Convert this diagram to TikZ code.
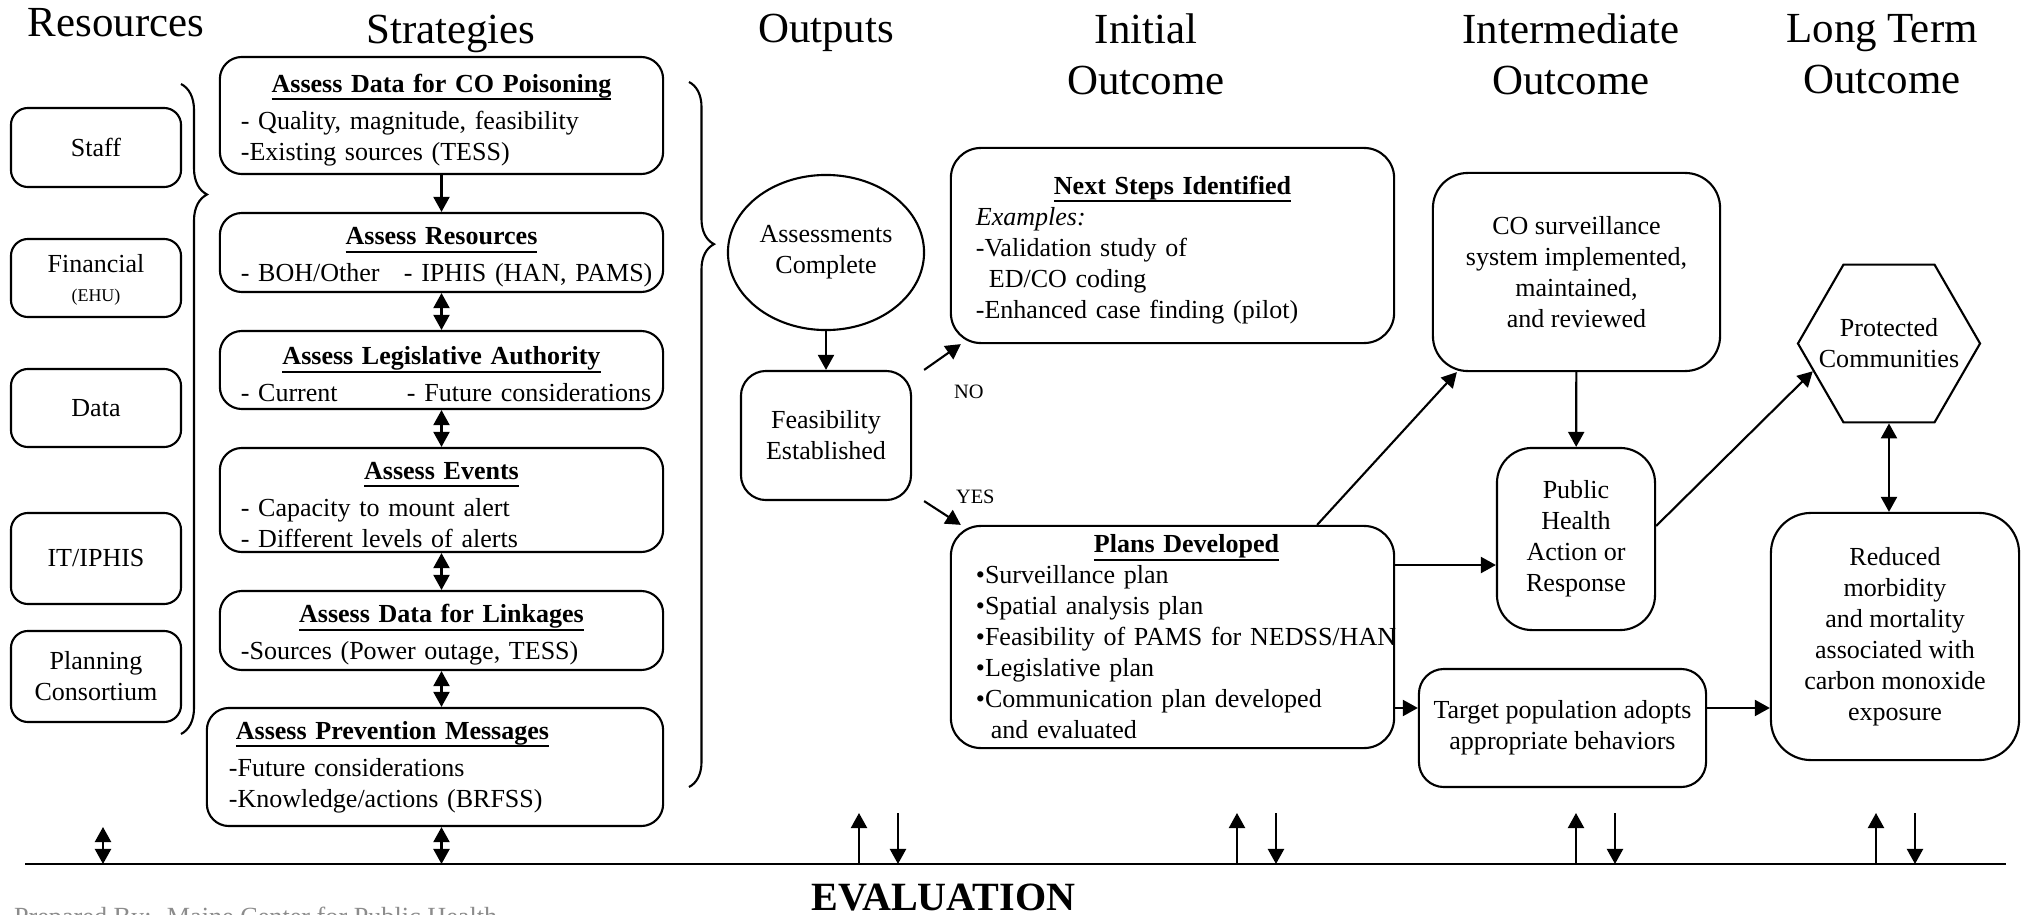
\documentclass[tikz,border=0pt]{standalone}
\usepackage{fontspec}
\setmainfont{Liberation Serif}
\usetikzlibrary{arrows.meta,shapes.geometric,decorations.pathreplacing}
\newcommand{\ttl}[1]{\setbox0\hbox{\bfseries #1}\rlap{\rule[-0.08cm]{\wd0}{0.02cm}}\box0}
\newcommand{\ctitle}[1]{\makebox[\hsize]{\rule{0pt}{0.27cm}\ttl{#1}}}

\begin{document}
\begin{tikzpicture}[x=0.01cm, y=-0.01cm, line width=0.6pt,
    >={Triangle[length=0.15cm,width=0.16cm]},
    head/.style={font=\fontsize{12.2}{14.5}\selectfont, inner sep=0pt, align=center},
    body/.style={font=\fontsize{7.4}{8.82}\selectfont},
    box/.style={draw, rounded corners=0.17cm, inner sep=0pt, align=center, body},
    strat/.style={box, rounded corners=0.22cm, minimum width=4.43cm, text width=4.01cm, align=left},
    plan/.style={box, rounded corners=0.3cm, minimum width=4.43cm, text width=3.93cm, align=left},
    small/.style={font=\fontsize{5.8}{7}\selectfont, inner sep=0pt},
    curly/.style={decorate, decoration={brace, amplitude=#1}}]
    \useasboundingbox (0,0) rectangle (2026,915);

    % Draw column headers
    \node[head, anchor=base] (hres) at (116,37) {Resources};
    \node[head, anchor=base] (hstr) at (451,43) {Strategies};
    \node[head, anchor=base] (hout) at (826,42) {Outputs};
    \node[head, anchor=north] (hini) at (1146,13) {Initial\\Outcome};
    \node[head, anchor=north] (hmid) at (1571,13) {Intermediate\\Outcome};
    \node[head, anchor=north] (hlng) at (1882,13) {Long Term\\Outcome};

    % Draw resource nodes
    \node[box, minimum width=1.7cm, minimum height=0.79cm] (staff) at (96,147.5) {Staff};
    \node[box, minimum width=1.7cm, minimum height=0.78cm] (fin) at (96,278) {\rule{0pt}{0.22cm}Financial\\[-0.02cm]{\fontsize{5.1}{6}\selectfont (EHU)}};
    \node[box, minimum width=1.7cm, minimum height=0.78cm] (data) at (96,408) {Data};
    \node[box, minimum width=1.7cm, minimum height=0.91cm] (it) at (96,558.5) {IT/IPHIS};
    \node[box, minimum width=1.7cm, minimum height=0.91cm] (cons) at (96,676.5) {Planning\\Consortium};

    % Draw strategy nodes
    \node[strat, minimum height=1.17cm] (s1) at (441.5,115.5) {\ctitle{Assess Data for CO Poisoning}\\[0.06cm]
        - Quality, magnitude, feasibility\\-Existing sources (TESS)};
    \node[strat, minimum height=0.79cm] (s2) at (441.5,252.5) {\ctitle{Assess Resources}\\[0.06cm]
        \mbox{\makebox[1.63cm][l]{- BOH/Other}- IPHIS (HAN, PAMS)}};
    \node[strat, minimum height=0.78cm] (s3) at (441.5,370) {\ctitle{Assess Legislative Authority}\\[0.06cm]
        \mbox{\makebox[1.66cm][l]{- Current}- Future considerations}};
    \node[strat, minimum height=1.04cm] (s4) at (441.5,500) {\ctitle{Assess Events}\\[0.06cm]
        - Capacity to mount alert\\- Different levels of alerts};
    \node[strat, minimum height=0.79cm] (s5) at (441.5,630.5) {\ctitle{Assess Data for Linkages}\\[0.06cm]
        -Sources (Power outage, TESS)};
    \node[strat, minimum width=4.56cm, text width=4.12cm, minimum height=1.18cm] (s6) at (435,767) {\hspace*{0.07cm}\ttl{Assess Prevention Messages}\\[0.06cm]
        -Future considerations\\-Knowledge/actions (BRFSS)};

    % Draw output nodes
    \node[draw, ellipse, minimum width=1.96cm, minimum height=1.55cm, inner sep=0pt, align=center, body] (assess) at (826,252.5) {Assessments\\Complete};
    \node[box, rounded corners=0.25cm, minimum width=1.7cm, minimum height=1.29cm] (feas) at (826,435.5) {Feasibility\\Established};

    % Draw initial outcome nodes
    \node[plan, minimum height=1.95cm] (next) at (1172.5,245.5) {\ctitle{Next Steps Identified}\\
        \textit{Examples:}\\-Validation study of\\\hspace*{0.13cm}ED/CO coding\\-Enhanced case finding (pilot)};
    \node[plan, minimum height=2.22cm] (plans) at (1172.5,637) {\makebox[\hsize]{\hspace{0.28cm}\ttl{Plans Developed}}\\
        •Surveillance plan\\•Spatial analysis plan\\\mbox{•Feasibility of PAMS for NEDSS/HAN}\\•Legislative plan\\
        •Communication plan developed\\\hspace*{0.15cm}and evaluated};

    % Draw intermediate outcome nodes
    \node[box, rounded corners=0.35cm, minimum width=2.87cm, minimum height=1.98cm] (cosurv) at (1576.5,272) {CO surveillance\\system implemented,\\maintained,\\and reviewed};
    \node[box, rounded corners=0.35cm, minimum width=1.58cm, minimum height=1.82cm] (pha) at (1576,539) {Public\\Health\\Action or\\Response};
    \node[box, rounded corners=0.25cm, minimum width=2.87cm, minimum height=1.18cm] (target) at (1562.5,728) {Target population adopts\\appropriate behaviors};

    % Draw long term outcome nodes
    \node[draw, regular polygon, regular polygon sides=6, minimum size=1.82cm, inner sep=0pt] (prot) at (1889,343.5) {};
    \node[align=center, body, inner sep=0pt] (prot-txt) at (prot) {Protected\\Communities};
    \node[box, rounded corners=0.4cm, minimum width=2.48cm, minimum height=2.47cm] (reduced) at (1895,636.5) {Reduced\\morbidity\\and mortality\\associated with\\carbon monoxide\\exposure};

    % Draw braces
    \coordinate (brl-top) at (181,84);
    \coordinate (brl-bot) at (181,734);
    \coordinate (brr-top) at (689,82);
    \coordinate (brr-bot) at (689,787);
    \draw[curly=0.26cm, decoration={aspect=0.17}] (brl-top) -- (brl-bot); % resources brace
    \draw[curly=0.25cm, decoration={aspect=0.23}] (brr-top) -- (brr-bot); % strategies brace

    % Draw edges between strategies
    \draw[->] (s1) -- (s2);
    \draw[<->] (s2) -- (s3);
    \draw[<->] (s3) -- (s4);
    \draw[<->] (s4) -- (s5);
    \draw[<->] (s5.south) -- (s5.south |- s6.north);

    % Draw edges of the outcomes
    \draw[->] (assess) -- (feas);
    \draw[->] ([xshift=0.12cm]feas.north east) -- ([xshift=0.11cm]next.south west); % NO branch
    \node[small, anchor=base west] (no) at (953,398) {NO};
    \draw[->] ([xshift=0.12cm]feas.south east) -- ([xshift=0.11cm]plans.north west); % YES branch
    \node[small, anchor=base west] (yes) at (955,503) {YES};
    \coordinate (ph-in) at ([yshift=-0.26cm]pha.west);
    \coordinate (tg-in) at ([yshift=0.2cm]target.west);
    \coordinate (ph-out) at ([yshift=0.13cm]pha.east);
    \draw[->] ([xshift=-0.78cm]plans.north east) -- ([xshift=0.25cm]cosurv.south west);
    \draw[->] (plans.east |- ph-in) -- (ph-in);
    \draw[->] (plans.east |- tg-in) -- (tg-in);
    \draw[->] (cosurv) -- (pha);
    \draw[->] (ph-out) -- (prot.200);
    \draw[<->] (prot.south) -- (prot.south |- reduced.north);
    \draw[->] (target.east |- tg-in) -- (reduced.west |- tg-in);

    % Draw evaluation line
    \coordinate (evL) at (25,864);
    \coordinate (evR) at (2006,864);
    \draw (evL) -- (evR);
    \coordinate (res-ev) at (103,827);
    \draw[<->] (res-ev) -- (res-ev |- evL);
    \draw[<->] (s5.south |- s6.south) -- (s5.south |- evL);
    \foreach \x/\n in {859/out, 1237/ini, 1576/mid, 1876/lng}{
        \coordinate (\n-up) at (\x,813);
        \coordinate (\n-dn) at (\x+39,813);
        \draw[->] (\n-up |- evL) -- (\n-up);
        \draw[->] (\n-dn) -- (\n-dn |- evL);
    }
    \node[font=\fontsize{11.4}{13}\selectfont\bfseries, anchor=base, inner sep=0pt] (eval) at (943.5,910) {EVALUATION};
    \node[font=\fontsize{7.45}{9}\selectfont, text=black!45, anchor=base west, inner sep=0pt] (prep) at (13,925) {Prepared By:~ Maine Center for Public Health};
\end{tikzpicture}
\end{document}
